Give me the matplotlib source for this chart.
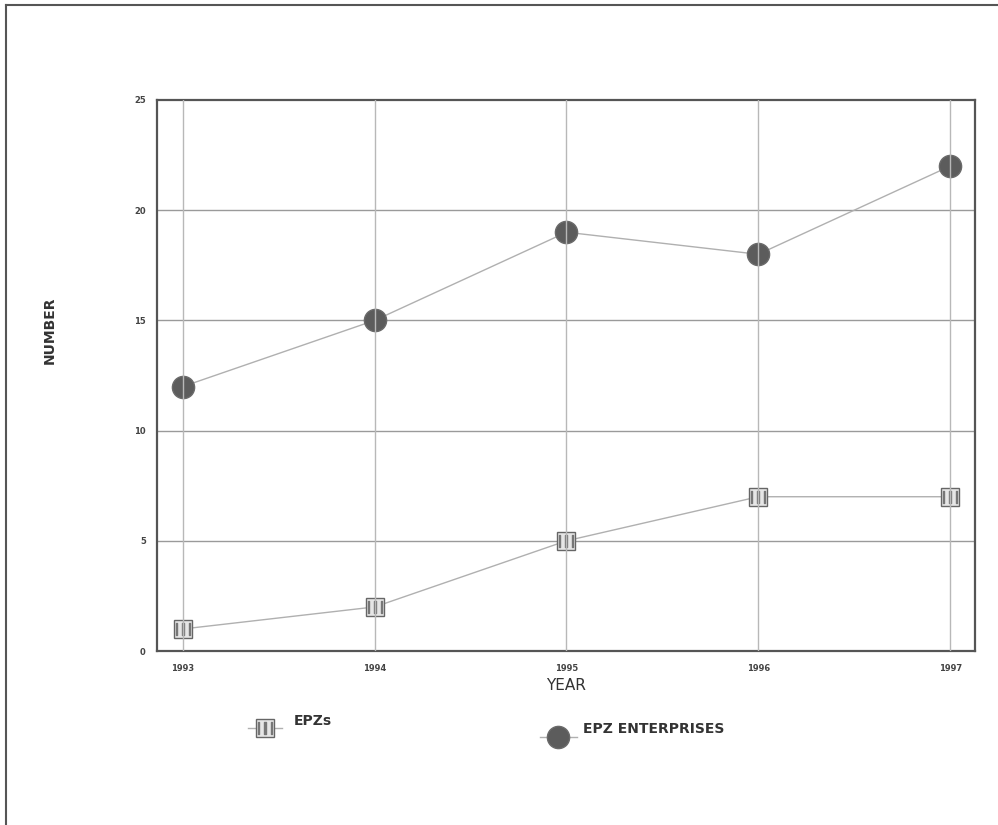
import matplotlib
matplotlib.use("Agg")
import matplotlib.pyplot as plt
from matplotlib.lines import Line2D

years = [1993, 1994, 1995, 1996, 1997]
epzs = [1, 2, 5, 7, 7]
epz_enterprises = [12, 15, 19, 18, 22]
y_ticks = [0, 5, 10, 15, 20, 25]

fig = plt.figure(figsize=(9.98, 8.25), dpi=100)
fig.patch.set_facecolor("white")

# scanned page border (left & top)
fig.add_artist(Line2D([0.006, 0.006], [0.0, 0.994], color="#555555", lw=1.5, transform=fig.transFigure))
fig.add_artist(Line2D([0.006, 1.0], [0.994, 0.994], color="#555555", lw=1.5, transform=fig.transFigure))

ax = fig.add_axes([0.1573, 0.2109, 0.8197, 0.6679])
ax.set_xlim(1992.865, 1997.13)
ax.set_ylim(0, 25)

for y in y_ticks[1:-1]:
    ax.axhline(y, color="#9a9a9a", lw=1.0, zorder=1)

ax.plot(years, epz_enterprises, color="#b0b0b0", lw=1.0, zorder=2,
        marker="o", markersize=16, markerfacecolor="#5c5c5c", markeredgecolor="#6a6a6a")
ax.plot(years, epzs, color="#b0b0b0", lw=1.0, zorder=2,
        marker="s", markersize=13, markerfacecolor="#e6e6e6", markeredgecolor="#666666")
ax.plot(years, epzs, ls="none", zorder=3,
        marker="$|\\,|\\,|$", markersize=10, color="#777777")

for x in years:
    ax.axvline(x, color="#b8b8b8", lw=1.0, zorder=4)

for s in ax.spines.values():
    s.set_color("#555555")
    s.set_linewidth(1.6)

ax.set_xticks(years)
ax.set_xticklabels([str(y) for y in years], fontsize=6, fontweight="bold", color="#444444")
ax.set_yticks(y_ticks)
ax.set_yticklabels([str(y) for y in y_ticks], fontsize=6, fontweight="bold", color="#444444")
ax.tick_params(axis="y", length=0, pad=8)
ax.tick_params(axis="x", length=0, pad=9)

ax.set_xlabel("YEAR", fontsize=11, color="#333333", labelpad=4)
fig.text(0.050, 0.600, "NUMBER", fontsize=10, fontweight="bold", color="#333333",
         rotation=90, ha="center", va="center")

# legend
fig.add_artist(Line2D([0.248, 0.283], [0.117, 0.117], color="#b0b0b0", lw=1.0, transform=fig.transFigure))
fig.add_artist(Line2D([0.2655], [0.117], marker="s", markersize=13, markerfacecolor="#e6e6e6",
                      markeredgecolor="#666666", transform=fig.transFigure))
fig.add_artist(Line2D([0.2655], [0.117], marker="$|\\,|\\,|$", markersize=10, color="#777777",
                      ls="none", transform=fig.transFigure))
fig.text(0.294, 0.118, "EPZs", fontsize=10, fontweight="bold", color="#333333", va="bottom")

fig.add_artist(Line2D([0.541, 0.578], [0.107, 0.107], color="#b0b0b0", lw=1.0, transform=fig.transFigure))
fig.add_artist(Line2D([0.559], [0.107], marker="o", markersize=16, markerfacecolor="#5c5c5c",
                      markeredgecolor="#6a6a6a", transform=fig.transFigure))
fig.text(0.584, 0.108, "EPZ ENTERPRISES", fontsize=10, fontweight="bold", color="#333333", va="bottom")

fig.savefig("out.png", dpi=100)
